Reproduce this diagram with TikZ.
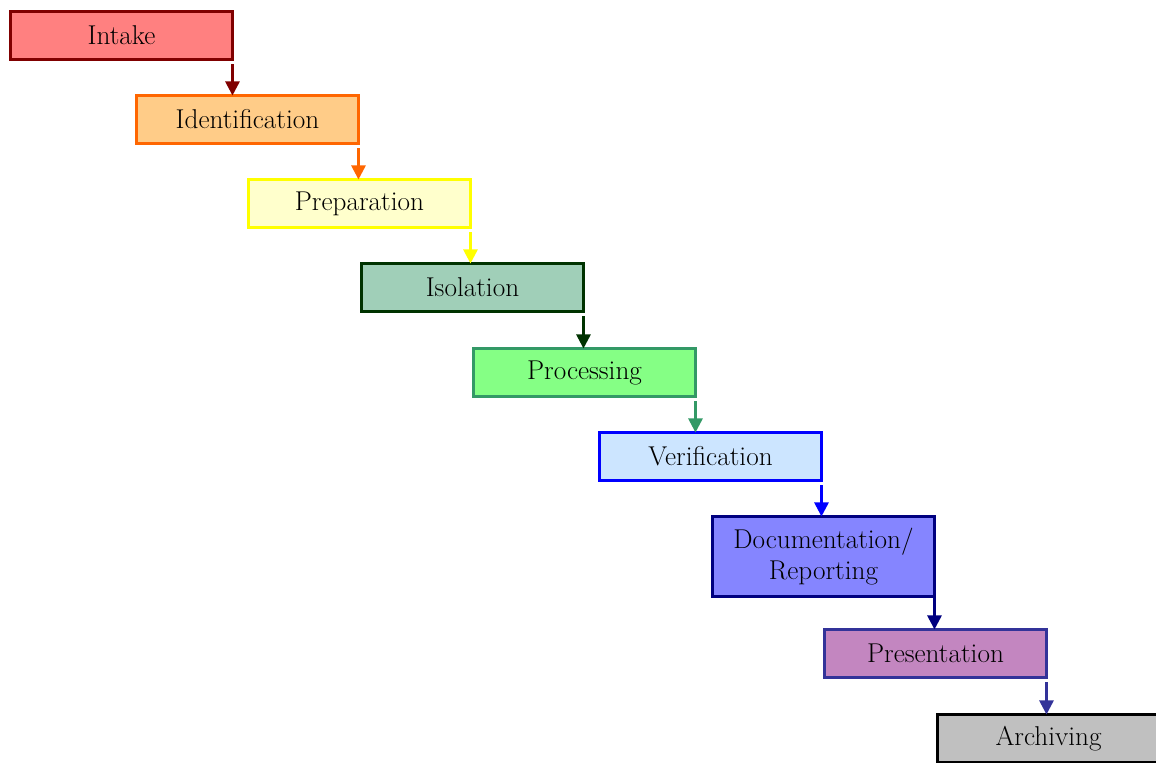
\documentclass[tikz,border=0pt]{standalone}
\usetikzlibrary{arrows.meta}
\definecolor{introse}{HTML}{FF8080}
\definecolor{introred}{HTML}{800000}
\definecolor{idfill}{HTML}{FFCC88}
\definecolor{idline}{HTML}{FF6600}
\definecolor{prepfill}{HTML}{FFFFCC}
\definecolor{prepline}{HTML}{FFFF00}
\definecolor{isofill}{HTML}{A0CFB8}
\definecolor{isoline}{HTML}{003300}
\definecolor{procfill}{HTML}{85FF85}
\definecolor{procline}{HTML}{339966}
\definecolor{verfill}{HTML}{CCE5FF}
\definecolor{verline}{HTML}{0000FF}
\definecolor{docfill}{HTML}{8585FF}
\definecolor{docline}{HTML}{000080}
\definecolor{presfill}{HTML}{C386C0}
\definecolor{presline}{HTML}{333399}
\definecolor{archfill}{HTML}{C0C0C0}
\tikzset{
  phase/.style={rectangle,draw,line width=1.5pt,minimum width=4.44cm,
    minimum height=0.96cm,inner sep=0pt,outer sep=0pt,align=center,
    font=\fontsize{15.5}{17.5}\selectfont}
}
\begin{document}
\begin{tikzpicture}
  [x=0.02cm,y=-0.02cm,>={Triangle[width=8pt,length=8pt]}]
  \clip (0,0) rectangle (1156,763);
  \node[phase,fill=introse,draw=introred]   (intake) at (121.5,35.5)  {Intake};
  \node[phase,fill=idfill,draw=idline]      (ident)  at (247.5,119.5) {Identification};
  \node[phase,fill=prepfill,draw=prepline]  (prep)   at (359.5,203.5) {Preparation};
  \node[phase,fill=isofill,draw=isoline]    (iso)    at (472.5,287.5) {Isolation};
  \node[phase,fill=procfill,draw=procline]  (proc)   at (584.5,372.5) {Processing};
  \node[phase,fill=verfill,draw=verline]    (verif)  at (710.5,456.5) {Verification};
  \node[phase,fill=docfill,draw=docline,minimum height=1.6cm]
                                            (doc)    at (823.5,556.5) {Documentation/\\Reporting};
  \node[phase,fill=presfill,draw=presline]  (pres)   at (935.5,653.5) {Presentation};
  \node[phase,fill=archfill,draw=black]     (arch)   at (1048.5,738.5) {Archiving};

\foreach \from/\to/\col/\gap in
{intake/ident/introred/5, ident/prep/idline/5, prep/iso/prepline/5, iso/proc/isoline/5,
 proc/verif/procline/5, verif/doc/verline/5, doc/pres/docline/0, pres/arch/presline/5}
    \draw[->,line width=1.5pt,draw=\col,fill=\col,shorten <=\gap*0.02cm]
      (\from.south east) -- (\from.south east |- \to.north);
\end{tikzpicture}
\end{document}
